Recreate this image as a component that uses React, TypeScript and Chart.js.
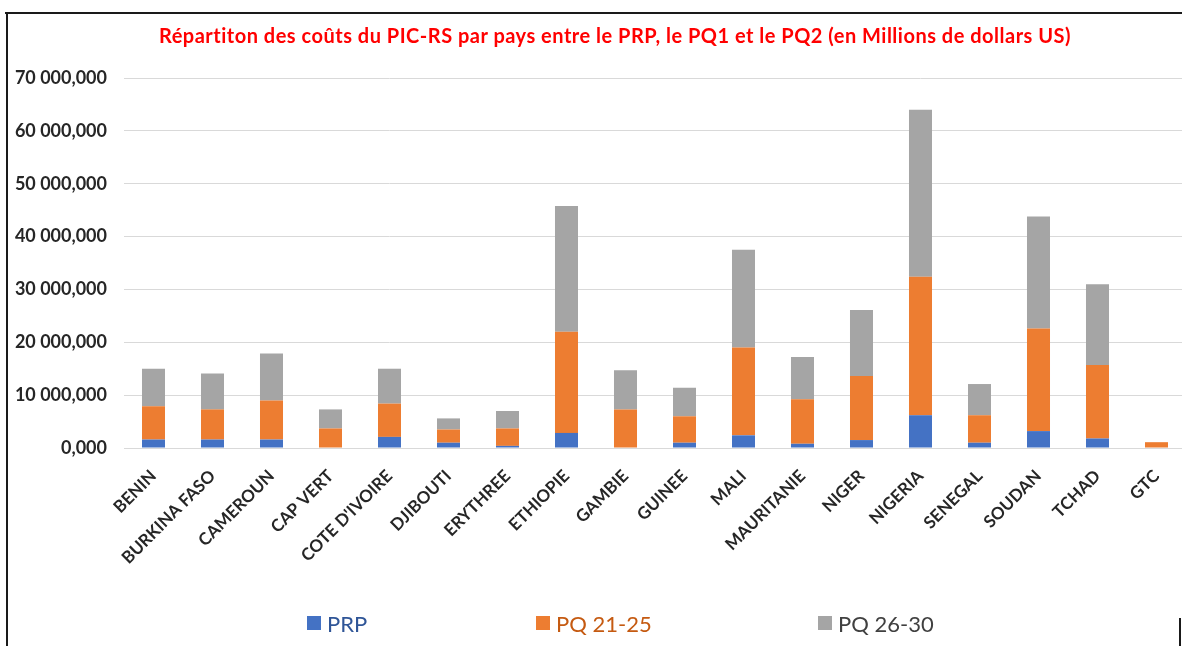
import React, { useEffect, useRef } from "react";
import { Chart, registerables } from "chart.js";

Chart.register(...registerables);

const categories = [
  "BENIN", "BURKINA FASO", "CAMEROUN", "CAP VERT", "COTE D'IVOIRE", "DJIBOUTI",
  "ERYTHREE", "ETHIOPIE", "GAMBIE", "GUINEE", "MALI", "MAURITANIE", "NIGER",
  "NIGERIA", "SENEGAL", "SOUDAN", "TCHAD", "GTC",
];

const prp = [1600, 1600, 1600, 0, 2100, 1000, 400, 2850, 0, 1000, 2400, 800, 1500, 6200, 1000, 3200, 1800, 0];
const pq2125 = [6300, 5700, 7400, 3700, 6300, 2500, 3300, 19150, 7300, 5000, 16600, 8400, 12100, 26200, 5200, 19400, 13900, 1100];
const pq2630 = [7100, 6800, 8900, 3600, 6600, 2100, 3300, 23800, 7400, 5400, 18500, 8000, 12500, 31600, 5900, 21200, 15300, 0];

const seriesNames = ["PRP", "PQ 21-25", "PQ 26-30"];
const seriesColors = ["#4472C4", "#ED7D31", "#A5A5A5"];
const legendTextColors = ["#2F5597", "#C55A11", "#404040"];

const yMax = 70000;
const yStep = 10000;

const title =
  "Répartiton des coûts du PIC-RS par pays entre le PRP, le PQ1 et le PQ2 (en Millions de dollars US)";

const fmt = (v: number) =>
  Math.round(v).toString().replace(/\B(?=(\d{3})+(?!\d))/g, " ") + ",000";

export default function App() {
  const ref = useRef<HTMLCanvasElement>(null);

  useEffect(() => {
    if (!ref.current) return;
    const values = [prp, pq2125, pq2630];
    const chart = new Chart(ref.current, {
      type: "bar",
      data: {
        labels: categories,
        datasets: values.map((d, i) => ({
          label: seriesNames[i],
          data: d,
          backgroundColor: seriesColors[i],
          stack: "s",
          categoryPercentage: 1,
          barPercentage: 0.39,
        })),
      },
      options: {
        responsive: false,
        animation: false,
        devicePixelRatio: 1,
        layout: { padding: { top: 78, bottom: 0, left: 0, right: 0 } },
        plugins: {
          legend: { display: false },
          title: { display: false },
          tooltip: { enabled: false },
        },
        scales: {
          x: {
            stacked: true,
            grid: { display: false },
            border: { display: true, color: "#D9D9D9", width: 1 },
            ticks: {
              autoSkip: false,
              minRotation: 45,
              maxRotation: 45,
              padding: 10,
              color: "#262626",
              font: { family: "Lato", weight: "bold", size: 17 },
            },
            afterFit: (s: any) => {
              s.height = 198;
            },
          },
          y: {
            stacked: true,
            min: 0,
            max: yMax,
            grid: { color: "#D9D9D9", drawTicks: false, lineWidth: 1 },
            border: { display: false },
            ticks: {
              stepSize: yStep,
              padding: 17,
              color: "#262626",
              font: { family: "Lato", weight: "bold", size: 18 },
              callback: (v: any) => fmt(Number(v)),
            },
            afterFit: (s: any) => {
              s.width = 124;
            },
          },
        },
      },
    });
    return () => chart.destroy();
  }, []);

  const legendLefts = [307, 536, 818];

  return (
    <div
      style={{
        position: "fixed",
        left: 0,
        top: 0,
        width: 1182,
        height: 646,
        overflow: "hidden",
        background: "#fff",
      }}
    >
      <canvas
        ref={ref}
        width={1186}
        height={646}
        style={{ position: "absolute", left: 0, top: 0, width: 1186, height: 646 }}
      />
      <div style={{ position: "absolute", left: 5, top: 12, right: 0, height: 2, background: "#1a1a1a" }} />
      <div style={{ position: "absolute", left: 6, top: 12, width: 2, bottom: 0, background: "#1a1a1a" }} />
      <div style={{ position: "absolute", left: 1179, top: 618, width: 2, bottom: 0, background: "#1a1a1a" }} />
      <div
        style={{
          position: "absolute",
          left: 15,
          width: 1200,
          top: 24,
          lineHeight: "22px",
          textAlign: "center",
          color: "#FF0000",
          fontFamily: "Lato, sans-serif",
          fontWeight: "bold",
          fontSize: 20,
          letterSpacing: 0.5,
          whiteSpace: "nowrap",
        }}
      >
        {title}
      </div>
      {seriesNames.map((n, i) => (
        <div
          key={n}
          style={{
            position: "absolute",
            left: legendLefts[i],
            top: 610,
            height: 26,
            display: "flex",
            alignItems: "center",
            fontFamily: "Lato, sans-serif",
            fontSize: 22,
            color: legendTextColors[i],
            whiteSpace: "nowrap",
          }}
        >
          <span
            style={{
              display: "inline-block",
              width: 14,
              height: 14,
              background: seriesColors[i],
              marginRight: 6,
            }}
          />
          {n}
        </div>
      ))}
    </div>
  );
}
